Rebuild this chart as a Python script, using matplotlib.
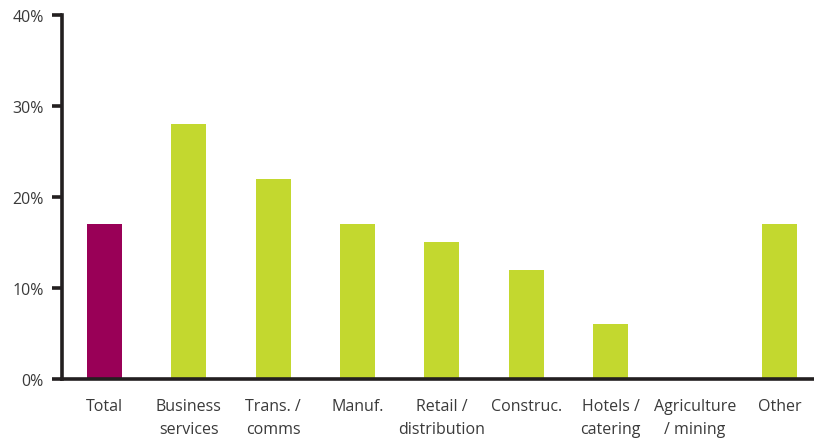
import matplotlib
matplotlib.use("Agg")
import matplotlib.pyplot as plt
from matplotlib.ticker import FuncFormatter

# share by sector, %
sectors = ["Total", "Business\nservices", "Trans. /\ncomms", "Manuf.",
           "Retail /\ndistribution", "Construc.", "Hotels /\ncatering",
           "Agriculture\n/ mining", "Other"]
values = [17, 28, 22, 17, 15, 12, 6, 0, 17]

PURPLE, GREEN, INK, TEXT = "#990057", "#c3d82f", "#231f20", "#3a3a3a"
colors = [PURPLE] + [GREEN] * (len(sectors) - 1)

plt.rcParams["font.family"] = ["Open Sans", "DejaVu Sans"]

fig = plt.figure(figsize=(8.14, 4.39), dpi=100)
ax = fig.add_axes([0.0762, 0.1344, 0.9238, 0.8292])

x = range(len(sectors))
ax.bar(x, values, width=0.415, color=colors, zorder=2)

ax.set_xlim(-0.503, 8.41)
ax.set_ylim(0, 40)
ax.set_yticks([0, 10, 20, 30, 40])
ax.yaxis.set_major_formatter(FuncFormatter(lambda v, _: f"{v:.0f}%"))
ax.set_xticks(list(x))
ax.set_xticklabels(sectors, linespacing=1.55)

for side in ("top", "right"):
    ax.spines[side].set_visible(False)
for side in ("left", "bottom"):
    ax.spines[side].set_color(INK)
    ax.spines[side].set_linewidth(2.6)

ax.tick_params(axis="y", direction="out", length=7, width=2.6, color=INK,
               labelsize=11.5, labelcolor=TEXT, pad=6)
ax.tick_params(axis="x", length=0, labelsize=11.5, labelcolor=TEXT, pad=14)

fig.savefig("out.png", dpi=100)
